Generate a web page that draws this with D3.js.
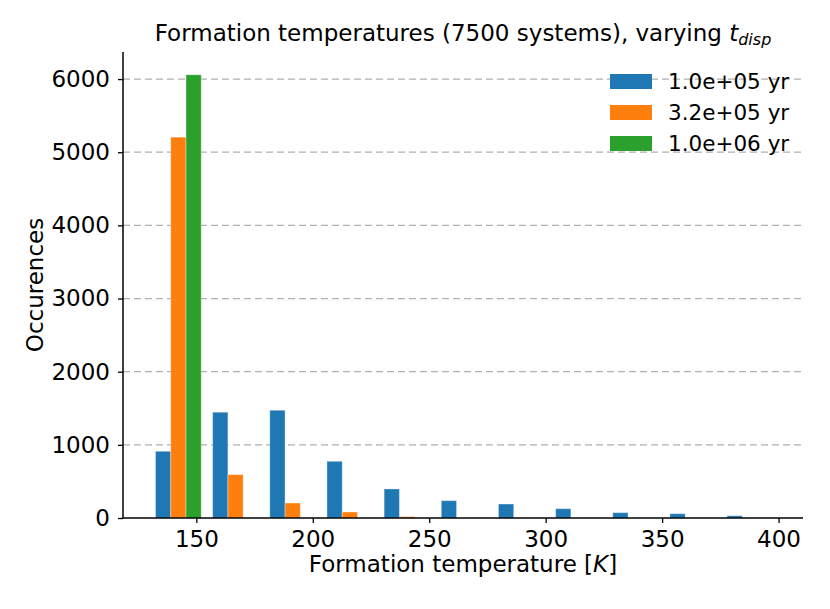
<!DOCTYPE html>
<html>
<head>
<meta charset="utf-8">
<script src="https://cdn.jsdelivr.net/npm/d3@7"></script>
<style>
  body { margin: 0; background: #fff; }
  svg { font-family: "DejaVu Sans", sans-serif; }
</style>
</head>
<body>
<svg id="chart" width="830" height="609"></svg>
<script>
// bin edges of the histogram (K)
const binEdges = [130, 154.55, 179.09, 203.64, 228.18, 252.73, 277.27, 301.82, 326.36, 350.91, 375.45, 400];
const seriesNames = ["1.0e+05 yr", "3.2e+05 yr", "1.0e+06 yr"];
const seriesColors = ["#1f77b4", "#ff7f0e", "#2ca02c"];
const counts1e5 = [912, 1446, 1473, 775, 397, 237, 191, 127, 73, 59, 31];
const counts3e5 = [5206, 593, 205, 82, 18, 0, 0, 0, 0, 0, 0];
const counts1e6 = [6059, 0, 0, 0, 0, 0, 0, 0, 0, 0, 0];
const xTicks = [150, 200, 250, 300, 350, 400];
const yTicks = [0, 1000, 2000, 3000, 4000, 5000, 6000];

const allCounts = [counts1e5, counts3e5, counts1e6];

function plot(){
    const svg = d3.select("#chart"),
        left = 123, right = 803, top = 52, bottom = 518;

    const x = d3.scaleLinear().domain([118.5, 410.5]).range([left, right]),
        y = d3.scaleLinear().domain([0, 6370]).range([bottom, top]);

    // horizontal grid
    svg.append("g")
        .selectAll("line")
        .data(yTicks.filter(d => d > 0))
        .enter().append("line")
        .attr("x1", left)
        .attr("x2", right)
        .attr("y1", d => y(d))
        .attr("y2", d => y(d))
        .attr("stroke", "#b0b0b0")
        .attr("stroke-width", 1.3)
        .attr("stroke-dasharray", "7,4");

    // bars, laid out like matplotlib's multi-dataset hist
    const bins = d3.range(binEdges.length - 1).map(i => ({lo: binEdges[i], hi: binEdges[i + 1]}));
    allCounts.forEach(function(counts, s) {
        svg.append("g")
            .selectAll("rect")
            .data(bins.map((b, i) => ({lo: b.lo, hi: b.hi, value: counts[i]})))
            .enter().append("rect")
            .attr("x", function(d) {
                const w = d.hi - d.lo;
                return x(d.lo + 0.1 * w + s * 0.8 * w / 3);
            })
            .attr("width", function(d) {
                const w = d.hi - d.lo;
                return x(d.lo + 0.8 * w / 3) - x(d.lo);
            })
            .attr("y", d => y(d.value))
            .attr("height", d => y(0) - y(d.value))
            .attr("fill", seriesColors[s])
            .attr("stroke", d => d.value > 0 ? "rgba(255,255,255,0.35)" : "none")
            .attr("stroke-width", 1);
    });

    // axes
    const gx = svg.append("g")
        .attr("transform", "translate(0," + bottom + ")")
        .call(d3.axisBottom(x).tickValues(xTicks).tickSizeOuter(0).tickSize(5).tickPadding(8));
    const gy = svg.append("g")
        .attr("transform", "translate(" + left + ",0)")
        .call(d3.axisLeft(y).tickValues(yTicks).tickFormat(d3.format("d"))
            .tickSizeOuter(0).tickSize(5).tickPadding(8));

    [gx, gy].forEach(function(g) {
        g.select(".domain").attr("stroke", "#000").attr("stroke-width", 1.5);
        g.selectAll(".tick line").attr("stroke", "#000").attr("stroke-width", 1.3);
        g.selectAll(".tick text")
            .attr("font-size", 23)
            .attr("font-family", "DejaVu Sans")
            .attr("fill", "#000");
    });
    gx.select(".domain").attr("d", "M" + left + ",0H" + right);
    gy.select(".domain").attr("d", "M0," + top + "V" + bottom);

    // title
    const title = svg.append("text")
        .attr("x", (left + right) / 2)
        .attr("y", 41)
        .attr("text-anchor", "middle")
        .attr("font-size", 23);
    title.append("tspan").text("Formation temperatures (7500 systems), varying ");
    title.append("tspan").attr("font-style", "italic").text("t");
    title.append("tspan").attr("font-style", "italic").attr("font-size", 16)
        .attr("dy", 4).text("disp");

    // x label
    const xl = svg.append("text")
        .attr("x", (left + right) / 2)
        .attr("y", 572)
        .attr("text-anchor", "middle")
        .attr("font-size", 23);
    xl.append("tspan").text("Formation temperature [");
    xl.append("tspan").attr("font-style", "italic").text("K");
    xl.append("tspan").text("]");

    // y label
    svg.append("text")
        .attr("transform", "translate(43," + ((top + bottom) / 2) + ") rotate(-90)")
        .attr("text-anchor", "middle")
        .attr("font-size", 23)
        .text("Occurences");

    // legend
    const lg = svg.append("g");
    seriesNames.forEach(function(name, i) {
        lg.append("rect")
            .attr("x", 610)
            .attr("y", 74 + i * 31)
            .attr("width", 42)
            .attr("height", 15)
            .attr("fill", seriesColors[i]);
        lg.append("text")
            .attr("x", 668)
            .attr("y", 89 + i * 31)
            .attr("font-size", 21.5)
            .text(name);
    });
}

plot();
</script>
</body>
</html>
